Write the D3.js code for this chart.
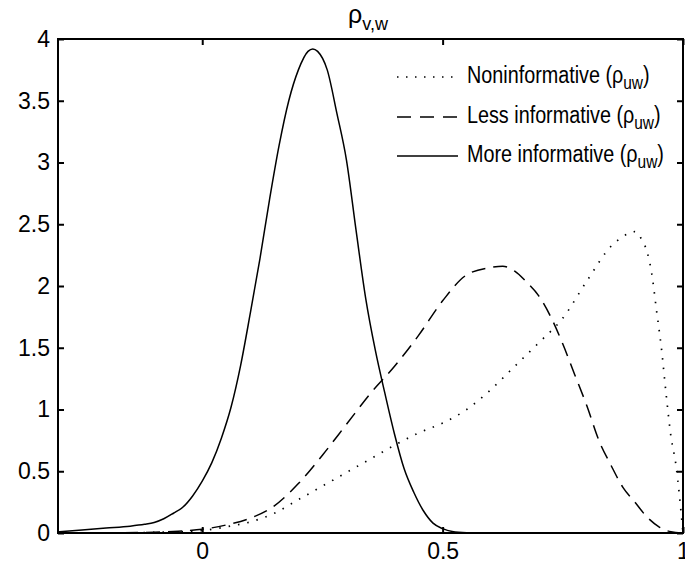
<!DOCTYPE html>
<html>
<head>
<meta charset="utf-8">
<script src="https://cdn.jsdelivr.net/npm/d3@7"></script>
<style>
  html, body { margin: 0; padding: 0; background: #fff; }
  svg { display: block; }
  text { font-family: "Liberation Sans", Arial, sans-serif; fill: #000; }
</style>
</head>
<body>
<svg id="chart" width="685" height="567"></svg>
<script>
// ---- data ----
const xSolid = [-0.3,-0.25,-0.2,-0.15,-0.12,-0.1,-0.08,-0.06,-0.04,-0.02,0,0.02,0.04,0.06,0.08,0.1,0.12,0.14,0.16,0.18,0.2,0.22,0.23,0.24,0.26,0.28,0.3,0.32,0.34,0.36,0.38,0.4,0.42,0.44,0.46,0.48,0.5,0.52,0.55,0.6,0.7,0.8,0.9,1.0];
const ySolid = [0.01,0.025,0.04,0.055,0.07,0.085,0.115,0.16,0.21,0.3,0.42,0.57,0.77,1.02,1.36,1.78,2.22,2.7,3.14,3.5,3.75,3.9,3.92,3.9,3.75,3.4,3.02,2.45,1.9,1.48,1.13,0.8,0.52,0.33,0.18,0.08,0.035,0.012,0.003,0,0,0,0,0];

const xDashed = [-0.3,-0.2,-0.1,-0.05,0,0.05,0.1,0.15,0.2,0.25,0.3,0.35,0.4,0.45,0.5,0.55,0.6,0.625,0.65,0.675,0.7,0.725,0.75,0.775,0.8,0.825,0.85,0.875,0.9,0.925,0.95,0.975,1.0];
const yDashed = [0,0.002,0.006,0.015,0.03,0.065,0.12,0.22,0.4,0.63,0.88,1.13,1.35,1.6,1.88,2.09,2.15,2.16,2.12,2.03,1.92,1.75,1.53,1.28,1.03,0.75,0.55,0.37,0.25,0.13,0.05,0.01,0];

const xDotted = [-0.3,-0.2,-0.1,0,0.05,0.1,0.15,0.2,0.25,0.3,0.35,0.4,0.45,0.5,0.55,0.6,0.65,0.7,0.75,0.8,0.85,0.875,0.9,0.915,0.925,0.935,0.945,0.955,0.965,0.975,0.985,1.0];
const yDotted = [0,0,0.005,0.02,0.05,0.09,0.16,0.27,0.38,0.49,0.6,0.71,0.81,0.89,1.0,1.16,1.35,1.54,1.74,2.04,2.32,2.4,2.44,2.37,2.28,2.1,1.8,1.5,1.12,0.78,0.56,0];

const xTickVals = [0, 0.5, 1];
const xTickLabels = ["0", "0.5", "1"];
const yTickVals = [0, 0.5, 1, 1.5, 2, 2.5, 3, 3.5, 4];
const yTickLabels = ["0", "0.5", "1", "1.5", "2", "2.5", "3", "3.5", "4"];

const seriesNames = ["Noninformative (\u03C1", "Less informative (\u03C1", "More informative (\u03C1"];
const seriesSub = ["uw", "uw", "uw"];
const seriesDash = ["1.5,8", "14,8", null];

// ---- layout ----
const svg = d3.select("#chart");
const L = 58, R = 683, T = 39, B = 533;
const x = d3.scaleLinear().domain([-0.3, 1]).range([L, R]);
const y = d3.scaleLinear().domain([0, 4]).range([B, T]);

svg.append("defs").append("clipPath").attr("id", "clip")
  .append("rect").attr("x", L).attr("y", T).attr("width", R - L).attr("height", B - T);

const line = d3.line().x(d => x(d[0])).y(d => y(d[1])).curve(d3.curveMonotoneX);

const series = [
  { xs: xDotted, ys: yDotted, dash: seriesDash[0], w: 1.7 },
  { xs: xDashed, ys: yDashed, dash: seriesDash[1], w: 1.5 },
  { xs: xSolid, ys: ySolid, dash: seriesDash[2], w: 1.5 }
];

const g = svg.append("g").attr("clip-path", "url(#clip)");
series.forEach(s => {
  g.append("path")
    .datum(s.xs.map((v, i) => [v, s.ys[i]]))
    .attr("d", line)
    .attr("fill", "none")
    .attr("stroke", "#000")
    .attr("stroke-width", s.w)
    .attr("stroke-dasharray", s.dash);
});

// ---- axes ----
const fmtX = d => xTickLabels[xTickVals.indexOf(d)];
const fmtY = d => yTickLabels[yTickVals.indexOf(d)];

const axB = svg.append("g").attr("transform", `translate(0,${B})`)
  .call(d3.axisBottom(x).tickValues(xTickVals).tickFormat(fmtX).tickSizeInner(-6).tickSizeOuter(0).tickPadding(10));
const axT = svg.append("g").attr("transform", `translate(0,${T})`)
  .call(d3.axisTop(x).tickValues(xTickVals).tickFormat("").tickSizeInner(-6).tickSizeOuter(0));
const axL = svg.append("g").attr("transform", `translate(${L},0)`)
  .call(d3.axisLeft(y).tickValues(yTickVals).tickFormat(fmtY).tickSizeInner(-6).tickSizeOuter(0).tickPadding(8));
const axR = svg.append("g").attr("transform", `translate(${R},0)`)
  .call(d3.axisRight(y).tickValues(yTickVals).tickFormat("").tickSizeInner(-6).tickSizeOuter(0));

[axB, axT, axL, axR].forEach(a => {
  a.select(".domain").remove();
  a.selectAll("line").attr("stroke", "#000").attr("stroke-width", 2);
  a.selectAll("text").style("font-size", "23px").style("font-family", "'Liberation Sans', Arial, sans-serif").attr("fill", "#000");
});

svg.append("rect").attr("x", L).attr("y", T).attr("width", R - L).attr("height", B - T)
  .attr("fill", "none").attr("stroke", "#000").attr("stroke-width", 2);

// ---- title ----
const title = svg.append("text").attr("x", 368).attr("y", 23).attr("text-anchor", "middle");
title.append("tspan").style("font-size", "25px").text("\u03C1");
title.append("tspan").style("font-size", "18px").attr("dy", 7).text("v,w");

// ---- legend ----
const legY = [77, 117, 156];
seriesNames.forEach((name, i) => {
  const ly = legY[i];
  svg.append("line")
    .attr("x1", 397).attr("x2", 458).attr("y1", ly).attr("y2", ly)
    .attr("stroke", "#000").attr("stroke-width", 1.5)
    .attr("stroke-dasharray", i === 0 ? "1.5,7.5" : (i === 1 ? "14,9" : null));
  const t = svg.append("g").attr("transform", `translate(467,${ly + 6}) scale(0.86,1)`)
    .append("text").attr("x", 0).attr("y", 0);
  t.append("tspan").style("font-size", "23px").text(name);
  t.append("tspan").style("font-size", "18px").attr("dy", 6).text(seriesSub[i]);
  t.append("tspan").style("font-size", "23px").attr("dy", -6).text(")");
});
</script>
</body>
</html>
